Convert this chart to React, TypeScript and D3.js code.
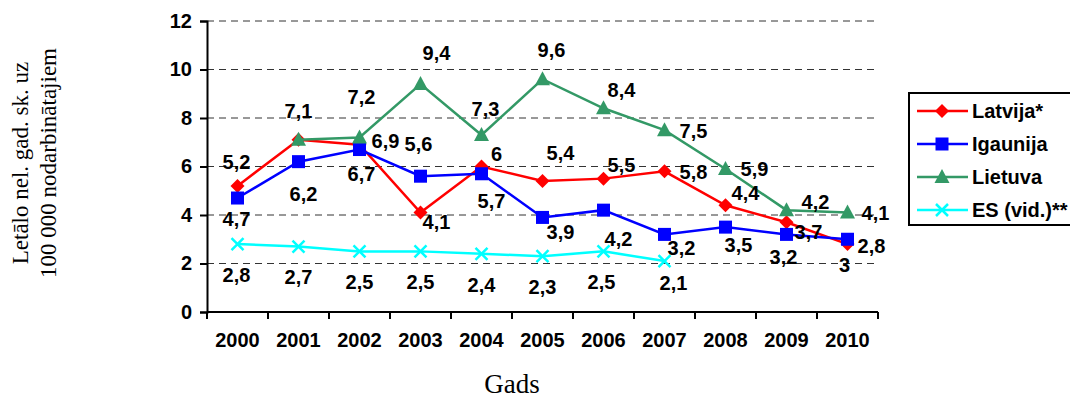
import { useEffect, useRef } from "react";
import * as d3 from "d3";

const years = ["2000", "2001", "2002", "2003", "2004", "2005", "2006", "2007", "2008", "2009", "2010"];
const latvija = [5.2, 7.1, 6.9, 4.1, 6, 5.4, 5.5, 5.8, 4.4, 3.7, 2.8];
const igaunija = [4.7, 6.2, 6.7, 5.6, 5.7, 3.9, 4.2, 3.2, 3.5, 3.2, 3];
const lietuva = [null, 7.1, 7.2, 9.4, 7.3, 9.6, 8.4, 7.5, 5.9, 4.2, 4.1];
const esVid = [2.8, 2.7, 2.5, 2.5, 2.4, 2.3, 2.5, 2.1, null, null, null];
const yTicks = [0, 2, 4, 6, 8, 10, 12];

// label offsets from the point (text centre), copied by eye from the original
const latvijaLbl: ([number, number] | null)[] = [[-1, -24], null, [26, -4], [16, 9], [15, -13], [18, -28], [18, -14], [29, 1], [20, -12], [22, 10], [24, 2]];
const igaunijaLbl: ([number, number] | null)[] = [[-1, 21], [5, 32], [2, 24], [-2, -32], [10, 27], [18, 15], [15, 29], [17, 14], [13, 18], [-3, 23], [-3, 26]];
const lietuvaLbl: ([number, number] | null)[] = [null, [0, -29], [2, -40], [16, -31], [4, -26], [9, -29], [18, -18], [29, 1], [29, 0], [29, -8], [28, 0]];
const esLbl: ([number, number] | null)[] = [[-1, 31], [0, 30], [0, 31], [0, 31], [0, 31], [0, 31], [-2, 31], [9, 22], null, null, null];

const series = [
  { name: "Latvija*", values: latvija, color: "#ff0000", marker: "diamond", lbl: latvijaLbl },
  { name: "Igaunija", values: igaunija, color: "#0000ff", marker: "square", lbl: igaunijaLbl },
  { name: "Lietuva", values: lietuva, color: "#339966", marker: "triangle", lbl: lietuvaLbl },
  { name: "ES (vid.)**", values: esVid, color: "#00ffff", marker: "x", lbl: esLbl },
];

const W = 1070;
const H = 400;
const bold = "'Liberation Sans', Arial, sans-serif";
const serif = "'Liberation Serif', 'Times New Roman', serif";

function drawMarker(g: d3.Selection<SVGGElement, unknown, null, undefined>, kind: string, cx: number, cy: number, color: string) {
  if (kind === "diamond") {
    g.append("path").attr("d", `M${cx},${cy - 7}L${cx + 7},${cy}L${cx},${cy + 7}L${cx - 7},${cy}Z`).attr("fill", color);
  } else if (kind === "square") {
    g.append("rect").attr("x", cx - 6.5).attr("y", cy - 6.5).attr("width", 13).attr("height", 13).attr("fill", color);
  } else if (kind === "triangle") {
    g.append("path").attr("d", `M${cx},${cy - 8}L${cx + 7.5},${cy + 6}L${cx - 7.5},${cy + 6}Z`).attr("fill", color);
  } else {
    g.append("path")
      .attr("d", `M${cx - 6},${cy - 6}L${cx + 6},${cy + 6}M${cx - 6},${cy + 6}L${cx + 6},${cy - 6}`)
      .attr("stroke", color).attr("stroke-width", 2.5).attr("fill", "none");
  }
}

export default function App() {
  const ref = useRef<SVGSVGElement | null>(null);

  useEffect(() => {
    const svg = d3.select(ref.current);
    svg.selectAll("*").remove();

    const x = d3.scaleBand().domain(years).range([207, 878]);
    const y = d3.scaleLinear().domain([0, 12]).range([312, 21]);
    const cx = (i: number) => (x(years[i]) as number) + x.bandwidth() / 2;

    // gridlines
    svg.append("g").selectAll("line")
      .data(yTicks.filter((t) => t > 0))
      .join("line")
      .attr("x1", 207).attr("x2", 878)
      .attr("y1", (d) => y(d)).attr("y2", (d) => y(d))
      .attr("stroke", "#333").attr("stroke-width", 1).attr("stroke-dasharray", "7,5");

    // axes
    const yAxis = svg.append("g").attr("transform", "translate(207,0)")
      .call(d3.axisLeft(y).tickValues(yTicks).tickSize(7).tickPadding(8).tickFormat(d3.format("d")));
    yAxis.select(".domain").attr("stroke", "#000").attr("stroke-width", 2);
    yAxis.selectAll(".tick line").attr("stroke", "#000").attr("stroke-width", 2);
    yAxis.selectAll("text").style("font-family", bold).style("font-weight", "bold").style("font-size", "20px").attr("fill", "#000");

    const xAxis = svg.append("g").attr("transform", "translate(0,312)")
      .call(d3.axisBottom(x).tickSize(0).tickPadding(21));
    xAxis.select(".domain").attr("stroke", "#000").attr("stroke-width", 2).attr("d", "M207,0H878");
    xAxis.selectAll("text").style("font-family", bold).style("font-weight", "bold").style("font-size", "20px").attr("fill", "#000");
    svg.append("g").selectAll("line")
      .data(years.concat(["end"]))
      .join("line")
      .attr("x1", (d, i) => i < years.length ? (x(d) as number) : 878)
      .attr("x2", (d, i) => i < years.length ? (x(d) as number) : 878)
      .attr("y1", 312).attr("y2", 319)
      .attr("stroke", "#000").attr("stroke-width", 2);

    // series
    series.forEach((s) => {
      const pts = s.values.map((v, i) => ({ v, i })).filter((p) => p.v !== null) as { v: number; i: number }[];
      const line = d3.line<{ v: number; i: number }>().x((p) => cx(p.i)).y((p) => y(p.v));
      svg.append("path").datum(pts).attr("d", line).attr("fill", "none").attr("stroke", s.color).attr("stroke-width", 2.5);
      const mg = svg.append("g");
      pts.forEach((p) => drawMarker(mg, s.marker, cx(p.i), y(p.v), s.color));
    });

    // labels
    series.forEach((s) => {
      s.values.forEach((v, i) => {
        const off = s.lbl[i];
        if (v === null || !off) return;
        svg.append("text")
          .attr("x", cx(i) + off[0]).attr("y", y(v) + off[1])
          .attr("text-anchor", "middle").attr("dominant-baseline", "central")
          .style("font-family", bold).style("font-weight", "bold").style("font-size", "20px")
          .text(String(v).replace(".", ","));
      });
    });

    // legend
    const lg = svg.append("g");
    lg.append("rect").attr("x", 909).attr("y", 93).attr("width", 200).attr("height", 132)
      .attr("fill", "#fff").attr("stroke", "#000").attr("stroke-width", 2);
    series.forEach((s, i) => {
      const ly = 111 + i * 33;
      lg.append("line").attr("x1", 917).attr("x2", 968).attr("y1", ly).attr("y2", ly).attr("stroke", s.color).attr("stroke-width", 2.5);
      drawMarker(lg, s.marker, 942, ly, s.color);
      lg.append("text").attr("x", 972).attr("y", ly).attr("dominant-baseline", "central")
        .style("font-family", bold).style("font-weight", "bold").style("font-size", "20px")
        .text(s.name);
    });

    // titles
    svg.append("text").attr("x", 512).attr("y", 384).attr("text-anchor", "middle").attr("dominant-baseline", "central")
      .style("font-family", serif).style("font-size", "27px").text("Gads");
    const yt = svg.append("text").attr("transform", "translate(34,163) rotate(-90)").attr("text-anchor", "middle")
      .style("font-family", serif).style("font-size", "23px");
    yt.append("tspan").attr("x", 0).attr("y", -6).text("Letālo nel. gad. sk. uz");
    yt.append("tspan").attr("x", 0).attr("y", 22).text("100 000 nodarbinātajiem");
  }, []);

  return (
    <svg ref={ref} width={W} height={H}
      style={{ position: "absolute", left: 0, top: 0, background: "#fff" }} />
  );
}
